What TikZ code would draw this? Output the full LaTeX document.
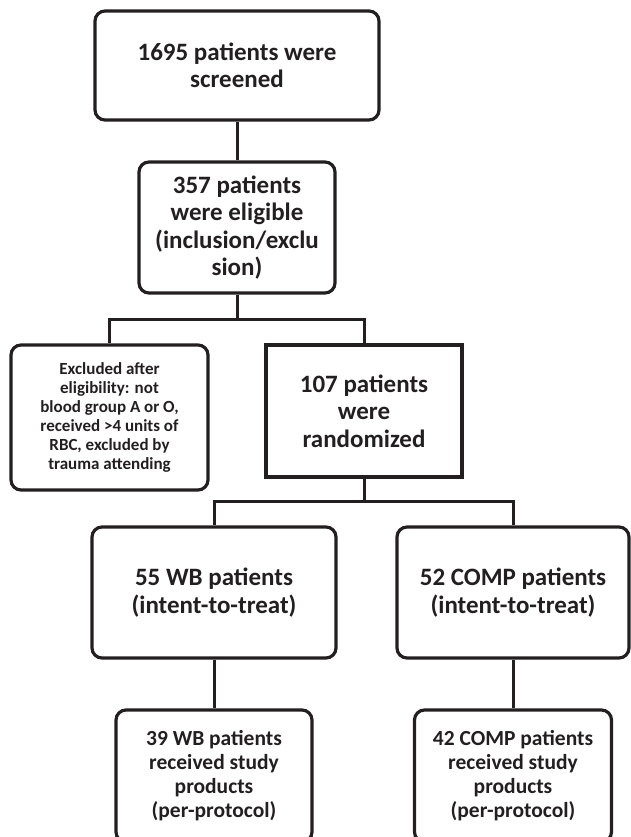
\documentclass[tikz,border=0pt]{standalone}
\usepackage{fontspec}
\setmainfont{Carlito}
\usepackage{tikz}
\usepackage{xcolor}
\definecolor{ink}{HTML}{231F20}
\tikzset{
    flow-box/.style = {draw=ink, text=ink, line width=3.2pt, rectangle, rounded corners=10pt, align=center, inner sep=0pt},
    square-box/.style = {flow-box, sharp corners},
    big-text/.style = {font=\fontsize{25}{27.5}\selectfont\bfseries},
    mid-text/.style = {font=\fontsize{21.5}{24}\selectfont\bfseries},
    small-text/.style = {font=\fontsize{17}{19}\selectfont\bfseries},
    flow-line/.style = {draw=ink, line width=3pt},
}

\begin{document}
\begin{tikzpicture}[x=1pt, y=-1pt]
\useasboundingbox (0,0) rectangle (631,837);
\node[flow-box, big-text, minimum width=284pt, minimum height=109pt] (screened) at (237,65.5) {1695 patients were\\screened};
\node[flow-box, big-text, minimum width=196pt, minimum height=131pt] (eligible) at (237,227.5) {357 patients\\were eligible\\(inclusion/exclu\\sion)};
\coordinate (split-a) at (237,319);
\node[flow-box, small-text, minimum width=197pt, minimum height=145pt] (excluded) at (109.5,417.5) {Excluded after\\eligibility: not\\blood group A or O,\\received >4 units of\\RBC, excluded by\\trauma attending};
\node[square-box, big-text, minimum width=196pt, minimum height=132pt] (randomized) at (364,411) {107 patients\\were\\randomized};
\coordinate (split-b) at (364,501);
\node[flow-box, big-text, minimum width=244pt, minimum height=131pt] (wb-itt) at (214,592.5) {55 WB patients\\(intent-to-treat)};
\node[flow-box, big-text, minimum width=232pt, minimum height=131pt] (comp-itt) at (513,592.5) {52 COMP patients\\(intent-to-treat)};
\node[flow-box, mid-text, minimum width=196pt, minimum height=132pt] (wb-pp) at (214,776) {39 WB patients\\received study\\products\\(per-protocol)};
\node[flow-box, mid-text, minimum width=197pt, minimum height=132pt] (comp-pp) at (513,776) {42 COMP patients\\received study\\products\\(per-protocol)};

% connectors
\draw[flow-line] (screened) -- (eligible);
\draw[flow-line] (eligible) -- (split-a);
\draw[flow-line] (excluded.north) |- (split-a) -| (randomized.north);
\draw[flow-line] (randomized) -- (split-b);
\draw[flow-line] (wb-itt.north) |- (split-b) -| (comp-itt.north);
\draw[flow-line] (wb-itt) -- (wb-pp);
\draw[flow-line] (comp-itt) -- (comp-pp);
\end{tikzpicture}
\end{document}
